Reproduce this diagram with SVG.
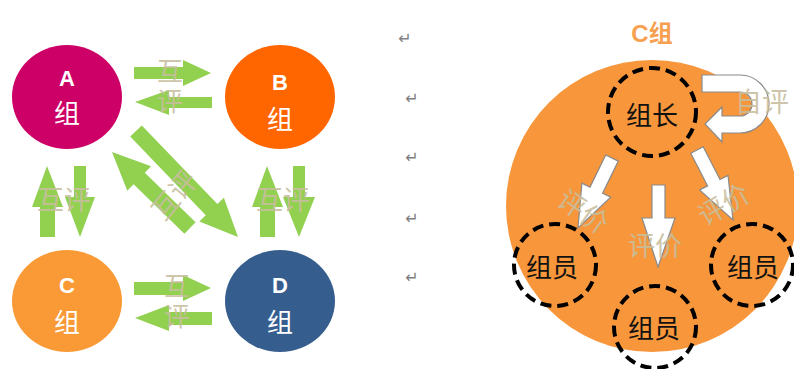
<svg xmlns="http://www.w3.org/2000/svg" width="794" height="369" viewBox="0 0 794 369">
<style>
.lbl{font-family:"Liberation Sans","Noto Sans CJK SC",sans-serif;fill:#fff;text-anchor:middle;dominant-baseline:central}
.let{font-size:22px;font-weight:bold}
.zu{font-size:26px;font-family:"Noto Sans CJK SC",sans-serif}
.g{fill:#92D050}
.ov{font-family:"Noto Sans CJK SC",sans-serif;font-size:27px;fill:#C8BE9E;fill-opacity:0.9;text-anchor:middle;dominant-baseline:central}
.vt{writing-mode:vertical-rl;font-size:26px;letter-spacing:4px}
.ret{font-family:"DejaVu Sans",sans-serif;font-size:16px;fill:#7f7f7f;text-anchor:middle;dominant-baseline:central}
.dash{fill:none;stroke:#000;stroke-width:4;stroke-dasharray:11 6}
.blk{font-family:"Noto Sans CJK SC",sans-serif;font-size:26px;fill:#111;text-anchor:middle;dominant-baseline:central}
.wa{fill:#fff;stroke:#8a8a8a;stroke-width:1.2}
</style>

<g id="connectors">
  <!-- A <-> B -->
  <polygon class="g" points="134,67 183,67 183,60 211,73 183,86 183,79 134,79"/>
  <polygon class="g" points="212,97 169,97 169,90 135,102 169,115 169,108 212,108"/>
  <!-- C <-> D -->
  <polygon class="g" points="134,282 183,282 183,275 211,288 183,301 183,295 134,295"/>
  <polygon class="g" points="212,312 169,312 169,305 135,318 169,331 169,325 212,325"/>
  <!-- A <-> C -->
  <polygon class="g" points="40,237 40,207 32,207 47,166 63,207 55,207 55,237"/>
  <polygon class="g" points="74,166 86,166 86,197 95,197 80,237 65,197 74,197"/>
  <!-- B <-> D -->
  <polygon class="g" points="260,237 260,207 252,207 267,166 283,207 275,207 275,237"/>
  <polygon class="g" points="293,166 305,166 305,197 315,197 299,237 283,197 293,197"/>
  <!-- diagonals -->
  <polygon class="g" points="130.2,136.6 205.8,215.2 199.3,221.4 238,237 223.9,197.8 217.4,204 141.8,125.4"/>
  <polygon class="g" points="195.6,222.3 144.8,172.8 151.1,166.3 112,152 127.3,190.7 133.6,184.2 184.4,233.7"/>
</g>

<g id="nodeA">
  <ellipse cx="67" cy="97" rx="55" ry="52" fill="#CC0066"/>
  <text class="lbl let" x="67" y="78">A</text>
  <text class="lbl zu" x="67" y="111">组</text>
</g>
<g id="nodeB">
  <ellipse cx="280" cy="97" rx="55" ry="52" fill="#FF6600"/>
  <text class="lbl let" x="280" y="82">B</text>
  <text class="lbl zu" x="280" y="117">组</text>
</g>
<g id="nodeC">
  <ellipse cx="67" cy="301" rx="55" ry="51" fill="#F99A36"/>
  <text class="lbl let" x="67" y="285">C</text>
  <text class="lbl zu" x="67" y="320">组</text>
</g>
<g id="nodeD">
  <ellipse cx="280" cy="301" rx="55" ry="51" fill="#355E8F"/>
  <text class="lbl let" x="280" y="285">D</text>
  <text class="lbl zu" x="280" y="320">组</text>
</g>

<g id="labels-left">
  <text class="ov vt" x="170" y="88">互评</text>
  <text class="ov vt" x="177" y="303">互评</text>
  <text class="ov" x="64" y="198">互评</text>
  <text class="ov" x="283" y="198">互评</text>
  <text class="ov" x="173" y="194" transform="rotate(-50 173 194)">互评</text>
</g>

<g id="returns">
  <text class="ret" x="405" y="38">↵</text>
  <text class="ret" x="412" y="98">↵</text>
  <text class="ret" x="412" y="157">↵</text>
  <text class="ret" x="412" y="218">↵</text>
  <text class="ret" x="412" y="277">↵</text>
</g>

<g id="groupC">
  <text x="652" y="33" font-family="Liberation Sans,'Noto Sans CJK SC',sans-serif" font-size="24" font-weight="bold" fill="#F7A050" text-anchor="middle" dominant-baseline="central">C组</text>
  <circle cx="652" cy="206" r="146" fill="#F7963B"/>
</g>

<g id="leader">
  <circle class="dash" cx="652" cy="112" r="44"/>
  <text class="blk" x="652" y="113">组长</text>
</g>
<g id="member1">
  <circle class="dash" cx="555" cy="265" r="41"/>
  <text class="blk" x="552" y="265">组员</text>
</g>
<g id="member2">
  <circle class="dash" cx="655" cy="327" r="41"/>
  <text class="blk" x="654" y="326">组员</text>
</g>
<g id="member3">
  <circle class="dash" cx="752" cy="265" r="41"/>
  <text class="blk" x="753" y="265">组员</text>
</g>

<g id="connectors-c">
  <path class="wa" d="M702,75 L740,75 A29,29 0 0 1 740,133 L722,133 L722,142 L705,124 L722,107 L722,116 L740,116 A12,12 0 0 0 740,92 L702,92 Z"/>
  <polygon class="wa" points="605.7,155 590,187.1 581.9,183.2 578,228 610.7,197.2 602.6,193.3 618.3,161.1"/>
  <polygon class="wa" points="652,185 665,185 665,218 675,218 658,267 642,218 652,218"/>
  <polygon class="wa" points="690.8,153.2 707.6,185.9 699.6,190 733,220 728,175.4 720,179.5 703.2,146.8"/>
</g>

<g id="labels-c">
  <text class="ov" x="762" y="100" font-size="28">自评</text>
  <text class="ov" x="584" y="210" transform="rotate(35 584 210)">评价</text>
  <text class="ov" x="655" y="244">评价</text>
  <text class="ov" x="723" y="203" transform="rotate(-30 723 203)">评价</text>
</g>
</svg>
